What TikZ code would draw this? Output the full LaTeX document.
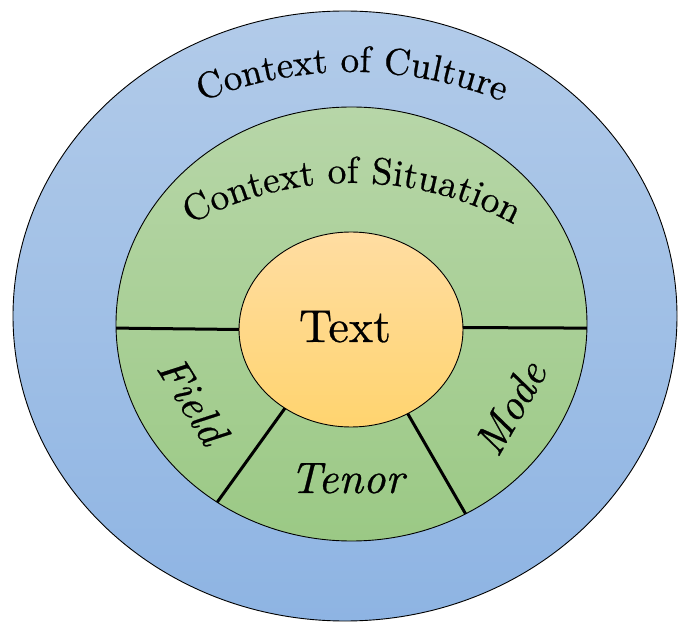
\documentclass[tikz,border=0pt]{standalone}
\usepackage{fontspec}
\setmainfont{lmroman10}[Extension=.otf, UprightFont=*-regular, ItalicFont=*-italic, BoldFont=*-bold, BoldItalicFont=*-bolditalic, FakeBold=0.6]
\usetikzlibrary{shapes.geometric,decorations.text}
\definecolor{blueT}{HTML}{B2CBE9}
\definecolor{blueB}{HTML}{8EB4E3}
\definecolor{greenT}{HTML}{B7D6A8}
\definecolor{greenB}{HTML}{9BC985}
\definecolor{orangeT}{HTML}{FFDDA2}
\definecolor{orangeB}{HTML}{FFD46F}
\begin{document}
\begin{tikzpicture}[x=1pt,y=1pt,
  ring/.style={ellipse, draw=black, line width=0.9pt, inner sep=0pt, outer sep=0pt},
  divider/.style={line width=3pt, draw=black},
  lbl/.style={inner sep=0pt, font=\fontsize{43}{43}\selectfont\itshape}]
\useasboundingbox (0,0) rectangle (678,622);
% rings
\node[ring, minimum width=664pt, minimum height=610pt, top color=blueT, bottom color=blueB] (culture) at (345,306) {};
\node[ring, minimum width=471pt, minimum height=434pt, top color=greenT, bottom color=greenB] (situation) at (351.5,298) {};
\node[ring, minimum width=224pt, minimum height=195pt, top color=orangeT, bottom color=orangeB] (core) at (351,292.5) {};
% dividers
\draw[divider] (situation.181) -- (core.180);
\draw[divider] (situation.359.3) -- (core.1.3);
\draw[divider] (situation.233.1) -- (core.230.3);
\draw[divider] (situation.301) -- (core.304);
% curved titles
\coordinate (cultc) at (352,152);
\coordinate (sitc) at (352,102);
\path[decorate, decoration={text along path, text align=center,
  text={|\fontsize{37}{37}\selectfont|Context of Culture}}]
  (cultc) ++(150:398pt) arc[start angle=150, end angle=30, radius=398pt];
\path[decorate, decoration={text along path, text align=center,
  text={|\fontsize{37.5}{37.5}\selectfont|Context of Situation}}]
  (sitc) ++(150:337pt) arc[start angle=150, end angle=30, radius=337pt];
% labels
\node[inner sep=0pt, anchor=base, font=\fontsize{46}{46}\selectfont] (textlbl) at (345,280) {Text};
\node[lbl, rotate=-58] (field) at (193,222) {Field};
\node[lbl, rotate=60] (mode) at (510,214) {Mode};
\node[lbl, anchor=base, font=\fontsize{44}{44}\selectfont\itshape] (tenor) at (347,129) {Tenor};
\end{tikzpicture}
\end{document}
